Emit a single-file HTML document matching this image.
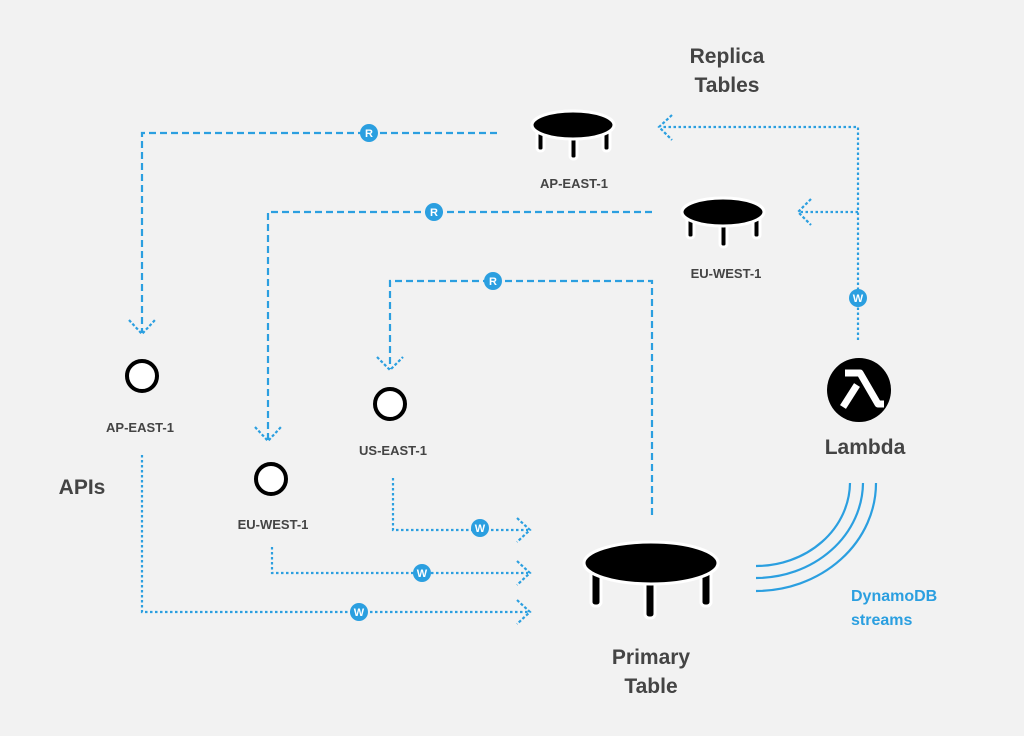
<!DOCTYPE html>
<html><head><style>
html,body{margin:0;padding:0;background:#f2f2f2;}
svg{display:block;}
text{font-family:"Liberation Sans","DejaVu Sans",sans-serif;font-weight:bold;}
</style></head><body>
<svg width="1024" height="736" viewBox="0 0 1024 736" xmlns="http://www.w3.org/2000/svg">
<rect width="1024" height="736" fill="#f2f2f2"/>
<g fill="none" stroke="#2b9fe0" stroke-width="2.2">
 <!-- R dashed -->
 <g stroke-dasharray="7,4">
  <path d="M497 133 H142 V333"/>
  <path d="M652 212 H268 V440"/>
  <path d="M652 515 V281 H390 V369"/>
 </g>
 <!-- W dotted -->
 <g stroke-dasharray="2.5,2.5">
  <path d="M393 478 V530 H528"/>
  <path d="M272 547 V573 H528"/>
  <path d="M142 455 V612 H528"/>
  <path d="M858 340 V127 H662"/>
  <path d="M858 212 H800"/>
 </g>
 <!-- arrowheads -->
 <g stroke-dasharray="3,2">
  <path d="M129 320 L142 334 L155 320"/>
  <path d="M255 427 L268 441 L281 427"/>
  <path d="M377 357 L390 370 L403 357"/>
  <path d="M517 518 L530 530 L517 542"/>
  <path d="M517 561 L530 573 L517 585"/>
  <path d="M517 600 L530 612 L517 624"/>
  <path d="M672 115 L659 127 L672 140"/>
  <path d="M811 199 L798 212 L811 225"/>
 </g>
 <!-- streams -->
 <path d="M756 566 A94 84 0 0 0 850 483"/>
 <path d="M756 578 A107 96 0 0 0 863 483"/>
 <path d="M756 591 A120 108 0 0 0 876 483"/>
</g>
<!-- badges -->
<g font-size="11" text-anchor="middle" fill="#fff">
 <g fill="#2b9fe0"><circle cx="369" cy="133" r="9"/><circle cx="434" cy="212" r="9"/><circle cx="493" cy="281" r="9"/>
 <circle cx="480" cy="528" r="9"/><circle cx="422" cy="573" r="9"/><circle cx="359" cy="612" r="9"/><circle cx="858" cy="298" r="9"/></g>
 <text x="369" y="137" fill="#fff">R</text><text x="434" y="216" fill="#fff">R</text><text x="493" y="285" fill="#fff">R</text>
 <text x="480" y="532" fill="#fff">W</text><text x="422" y="577" fill="#fff">W</text><text x="359" y="616" fill="#fff">W</text><text x="858" y="302" fill="#fff">W</text>
</g>
<!-- tables -->
<g fill="#000" stroke="#fff" stroke-width="3">
 <g><rect x="537" y="127" width="7" height="24" rx="3"/><rect x="603" y="127" width="7" height="24" rx="3"/><rect x="570" y="132" width="7" height="27" rx="3"/><ellipse cx="573" cy="125" rx="41" ry="14"/></g>
 <g><rect x="687" y="214" width="7" height="24" rx="3"/><rect x="753" y="214" width="7" height="24" rx="3"/><rect x="720" y="219" width="7" height="28" rx="3"/><ellipse cx="723" cy="212" rx="41" ry="14"/></g>
 <g><rect x="591" y="570" width="10" height="36" rx="4"/><rect x="701" y="570" width="10" height="36" rx="4"/><rect x="645" y="578" width="10" height="40" rx="4"/><ellipse cx="651" cy="563" rx="67" ry="21"/></g>
</g>
<!-- api circles -->
<g fill="#fff" stroke="#000" stroke-width="4">
 <circle cx="142" cy="376" r="15"/><circle cx="390" cy="404" r="15"/><circle cx="271" cy="479" r="15"/>
</g>
<!-- lambda -->
<circle cx="859" cy="390" r="32" fill="#000"/>
<path d="M845 373 H860 L878 404 H884" fill="none" stroke="#fff" stroke-width="7" stroke-linejoin="round"/>
<path d="M857 385 L843 407" fill="none" stroke="#fff" stroke-width="7"/>
<!-- labels -->
<g fill="#444">
 <text x="727" y="63" font-size="21" text-anchor="middle">Replica</text>
 <text x="727" y="92" font-size="21" text-anchor="middle">Tables</text>
 <text x="574" y="188" font-size="13" text-anchor="middle">AP-EAST-1</text>
 <text x="726" y="278" font-size="13" text-anchor="middle">EU-WEST-1</text>
 <text x="140" y="432" font-size="13" text-anchor="middle">AP-EAST-1</text>
 <text x="393" y="455" font-size="13" text-anchor="middle">US-EAST-1</text>
 <text x="273" y="529" font-size="13" text-anchor="middle">EU-WEST-1</text>
 <text x="82" y="494" font-size="21" text-anchor="middle">APIs</text>
 <text x="865" y="454" font-size="21" text-anchor="middle">Lambda</text>
 <text x="651" y="664" font-size="21" text-anchor="middle">Primary</text>
 <text x="651" y="693" font-size="21" text-anchor="middle">Table</text>
</g>
<g fill="#2b9fe0" font-size="16">
 <text x="851" y="601">DynamoDB</text>
 <text x="851" y="625">streams</text>
</g>
</svg>
</body></html>
